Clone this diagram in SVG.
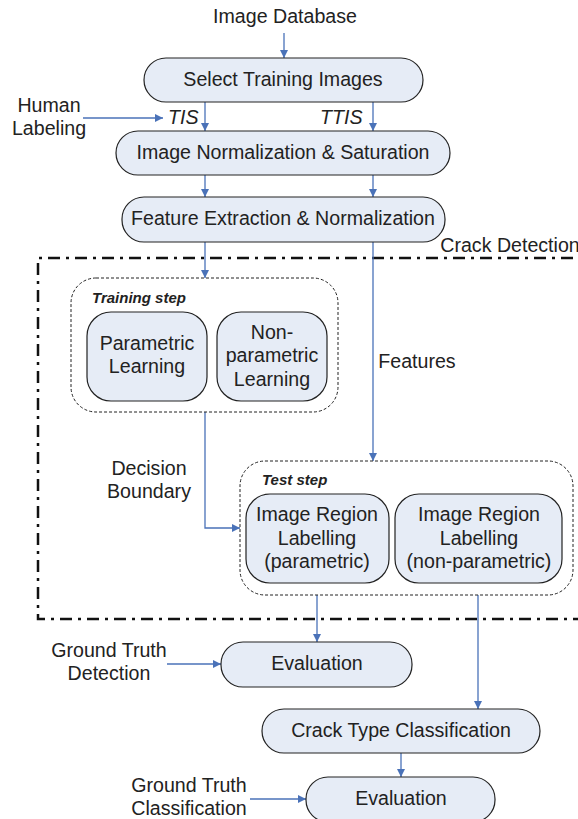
<svg xmlns="http://www.w3.org/2000/svg" width="578" height="819" viewBox="0 0 578 819">
<defs>
<style>
.t{font-family:"Liberation Sans",Arial,sans-serif;font-size:19.6px;fill:#222;text-anchor:middle}
.s{font-family:"Liberation Sans",Arial,sans-serif;font-size:15px;font-weight:bold;font-style:italic;fill:#222}
.i{font-family:"Liberation Sans",Arial,sans-serif;font-size:19.6px;font-style:italic;fill:#222}
.n{fill:#e6ecf6;stroke:#222;stroke-width:1.2}
.d{fill:none;stroke:#222;stroke-width:1;stroke-dasharray:3 2}
.c{fill:none;stroke:#4a72b8;stroke-width:1.3}
.a{marker-end:url(#ah)}
</style>
<marker id="ah" viewBox="0 0 10 10" refX="10" refY="5" markerWidth="8" markerHeight="8" markerUnits="userSpaceOnUse" orient="auto">
<path d="M0,0 L10,5 L0,10 z" fill="#4a72b8"/>
</marker>
</defs>
<rect width="578" height="819" fill="#fff"/>

<g id="crack-detection">
<path d="M600,258 L38,258 L38,619 L600,619" fill="none" stroke="#111" stroke-width="2.5" stroke-dasharray="12 6 3 6"/>
<text class="t" x="510" y="252">Crack Detection</text>
</g>

<g id="connectors">
<path class="c a" d="M284,33 V58"/>
<path class="c a" d="M205,102 V131"/>
<path class="c a" d="M373,102 V131"/>
<path class="c a" d="M83,118 H163"/>
<path class="c a" d="M205,175 V197"/>
<path class="c a" d="M373,175 V197"/>
<path class="c a" d="M205,242 V278"/>
<path class="c a" d="M373,242 V461"/>
<path class="c a" d="M205,412 V528 H240"/>
<path class="c a" d="M317,595 V642"/>
<path class="c a" d="M478,595 V709"/>
<path class="c a" d="M167,664 H221"/>
<path class="c a" d="M401,753 V777"/>
<path class="c a" d="M250,799 H306"/>
</g>

<g id="image-database"><text class="t" x="285" y="23">Image Database</text></g>
<g id="human-labeling"><text class="t" x="49" y="112">Human</text><text class="t" x="49" y="135">Labeling</text></g>
<g id="tis"><text class="i" x="168" y="124">TIS</text></g>
<g id="ttis"><text class="i" x="320" y="124">TTIS</text></g>

<g id="select-training"><rect class="n" x="144" y="58" width="279" height="44" rx="22"/><text class="t" x="283" y="86">Select Training Images</text></g>
<g id="normalization"><rect class="n" x="116" y="131" width="334" height="44" rx="22"/><text class="t" x="283" y="159">Image Normalization &amp; Saturation</text></g>
<g id="feature-extraction"><rect class="n" x="122" y="197" width="323" height="45" rx="22"/><text class="t" x="283" y="225">Feature Extraction &amp; Normalization</text></g>

<g id="training-step">
<rect class="d" x="71" y="278" width="267" height="134" rx="25"/>
<text class="s" x="92" y="303">Training step</text>
</g>
<g id="parametric-learning"><rect class="n" x="87" y="312" width="120" height="89" rx="24"/><text class="t" x="147" y="350">Parametric</text><text class="t" x="147" y="373">Learning</text></g>
<g id="nonparametric-learning"><rect class="n" x="217" y="312" width="110" height="89" rx="24"/><text class="t" x="272" y="339">Non-</text><text class="t" x="272" y="362">parametric</text><text class="t" x="272" y="386">Learning</text></g>

<g id="features-label"><text class="t" x="417" y="368">Features</text></g>
<g id="decision-boundary"><text class="t" x="149" y="475">Decision</text><text class="t" x="149" y="498">Boundary</text></g>

<g id="test-step">
<rect class="d" x="240" y="461" width="333" height="134" rx="25"/>
<text class="s" x="262" y="485">Test step</text>
</g>
<g id="region-parametric"><rect class="n" x="246" y="494" width="143" height="89" rx="24"/><text class="t" x="317" y="521">Image Region</text><text class="t" x="317" y="545">Labelling</text><text class="t" x="317" y="568">(parametric)</text></g>
<g id="region-nonparametric"><rect class="n" x="395" y="494" width="167" height="89" rx="24"/><text class="t" x="479" y="521">Image Region</text><text class="t" x="479" y="545">Labelling</text><text class="t" x="479" y="568">(non-parametric)</text></g>

<g id="ground-truth-detection"><text class="t" x="109" y="657">Ground Truth</text><text class="t" x="109" y="680">Detection</text></g>
<g id="evaluation-1"><rect class="n" x="221" y="642" width="191" height="45" rx="22"/><text class="t" x="317" y="670">Evaluation</text></g>
<g id="crack-type"><rect class="n" x="262" y="709" width="278" height="44" rx="22"/><text class="t" x="401" y="737">Crack Type Classification</text></g>
<g id="ground-truth-classification"><text class="t" x="189" y="792">Ground Truth</text><text class="t" x="189" y="815">Classification</text></g>
<g id="evaluation-2"><rect class="n" x="306" y="777" width="189" height="45" rx="22"/><text class="t" x="401" y="805">Evaluation</text></g>
</svg>
